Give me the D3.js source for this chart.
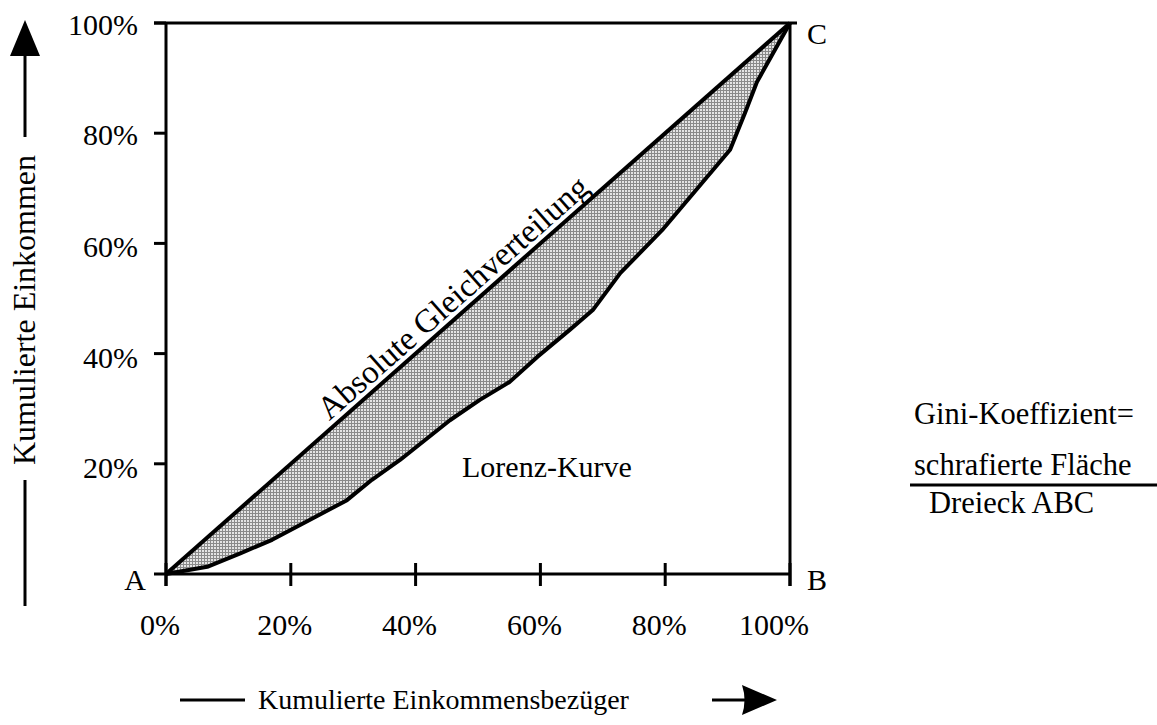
<!DOCTYPE html>
<html><head><meta charset="utf-8">
<script src="https://cdn.jsdelivr.net/npm/d3@7"></script>
<style>body{margin:0;background:#fff}svg{display:block}</style>
</head><body>
<svg id="c" width="1157" height="725" font-family="'Liberation Serif', 'Times New Roman', 'DejaVu Serif', serif"></svg>
<script>
// Data (percent)
const lorenzX = [0, 6.6, 12, 17, 23, 29, 33, 37.5, 45.5, 50.3, 55, 59.5, 64.7, 68.4, 72.8, 79.5, 90.4, 92.8, 94.7, 100];
const lorenzY = [0, 1.3, 3.8, 6.2, 9.8, 13.4, 17.1, 20.7, 27.9, 31.6, 34.8, 39.4, 44.3, 47.9, 54.6, 62.4, 77.0, 83.7, 89.3, 100];
const equalX = [0, 100];
const equalY = [0, 100];
const xTicks = [0, 20, 40, 60, 80, 100];
const yTicks = [20, 40, 60, 80, 100];
const xTickLabels = ["0%", "20%", "40%", "60%", "80%", "100%"];
const yTickLabels = ["20%", "40%", "60%", "80%", "100%"];
const cornerLabels = ["A", "B", "C"];
const xTitle = "Kumulierte Einkommensbezüger";
const yTitle = "Kumulierte Einkommen";
const curveLabels = ["Absolute Gleichverteilung", "Lorenz-Kurve"];
const giniLines = ["Gini-Koeffizient=", "schrafierte Fläche", "Dreieck ABC"];

const svg = d3.select("#c");
const x = d3.scaleLinear().domain([0, 100]).range([166, 790]);
const y = d3.scaleLinear().domain([0, 100]).range([574, 23]);

// pattern
const defs = svg.append("defs");
const pat = defs.append("pattern").attr("id", "hatch").attr("patternUnits", "userSpaceOnUse")
  .attr("width", 3).attr("height", 3);
pat.append("rect").attr("width", 3).attr("height", 3).attr("fill", "#e4e4e4");
pat.append("rect").attr("width", 3).attr("height", 1).attr("fill", "#8a8a8a");
pat.append("rect").attr("width", 1).attr("height", 3).attr("fill", "#8a8a8a");

const lorenz = lorenzX.map((v, i) => [v, lorenzY[i]]);
const equal = equalX.map((v, i) => [v, equalY[i]]);
const line = d3.line().x(d => x(d[0])).y(d => y(d[1]));

// shaded area: lorenz up to C then back along diagonal
svg.append("path").attr("d", line(lorenz.concat(equal.slice().reverse()))).attr("fill", "url(#hatch)")
  .attr("shape-rendering", "crispEdges");

// frame/axes
const ax = svg.append("g").attr("stroke", "#000").attr("stroke-width", 3).attr("fill", "none");
ax.append("line").attr("x1", x(0) - 12).attr("x2", x(100) + 7).attr("y1", y(100)).attr("y2", y(100));
ax.append("line").attr("x1", x(0) - 12).attr("x2", x(100)).attr("y1", y(0)).attr("y2", y(0));
ax.append("line").attr("x1", x(0)).attr("x2", x(0)).attr("y1", y(100)).attr("y2", y(0) + 12);
ax.append("line").attr("x1", x(100)).attr("x2", x(100)).attr("y1", y(100)).attr("y2", y(0) + 12);
yTicks.forEach(v => ax.append("line").attr("x1", x(0) - 12).attr("x2", x(0)).attr("y1", y(v)).attr("y2", y(v)));
xTicks.forEach(v => ax.append("line").attr("x1", x(v)).attr("x2", x(v)).attr("y1", y(0) - 11).attr("y2", y(0) + 12));

// curves
svg.append("path").attr("d", line(equal)).attr("stroke", "#000").attr("stroke-width", 4).attr("fill", "none");
svg.append("path").attr("d", line(lorenz)).attr("stroke", "#000").attr("stroke-width", 4).attr("fill", "none")
  .attr("stroke-linejoin", "round");

// tick labels
svg.selectAll(".xl").data(xTicks).enter().append("text")
  .attr("x", (d, i) => x(d) - (i === 5 ? 16 : 6)).attr("y", 635).attr("text-anchor", "middle")
  .attr("font-size", 30).text((d, i) => xTickLabels[i]);
svg.selectAll(".yl").data(yTicks).enter().append("text")
  .attr("x", 138).attr("y", (d, i) => y(d) + (d >= 80 ? 12 : 14)).attr("text-anchor", "end")
  .attr("font-size", 30).text((d, i) => yTickLabels[i]);

// corner labels
svg.append("text").attr("x", 146).attr("y", 590).attr("text-anchor", "end").attr("font-size", 30).text(cornerLabels[0]);
svg.append("text").attr("x", x(100) + 17).attr("y", 590).attr("font-size", 30).text(cornerLabels[1]);
svg.append("text").attr("x", x(100) + 17).attr("y", y(100) + 21).attr("font-size", 30).text(cornerLabels[2]);

// diagonal label
const ang = Math.atan2(y(0) - y(100), x(100) - x(0)) * 180 / Math.PI;
const mx = x(46.5), my = y(46.5);
svg.append("text").attr("transform", `translate(${mx + 4},${my - 12}) rotate(${-ang})`)
  .attr("text-anchor", "middle").attr("font-size", 33).text(curveLabels[0]);
svg.append("text").attr("x", 462).attr("y", 477).attr("font-size", 30).text(curveLabels[1]);

// gini
svg.append("text").attr("x", 914).attr("y", 424).attr("font-size", 30.5).text(giniLines[0]);
svg.append("text").attr("x", 914).attr("y", 475).attr("font-size", 30.5).text(giniLines[1]);
svg.append("line").attr("x1", 910).attr("x2", 1157).attr("y1", 485).attr("y2", 485).attr("stroke", "#000").attr("stroke-width", 3);
svg.append("text").attr("x", 929).attr("y", 513).attr("font-size", 30.5).text(giniLines[2]);

// y axis title with arrow
svg.append("text").attr("transform", "translate(35,310) rotate(-90)").attr("text-anchor", "middle")
  .attr("font-size", 32).text(yTitle);
const ar = svg.append("g").attr("stroke", "#000").attr("stroke-width", 3);
ar.append("line").attr("x1", 25).attr("x2", 25).attr("y1", 55).attr("y2", 137);
ar.append("line").attr("x1", 25).attr("x2", 25).attr("y1", 480).attr("y2", 606);
svg.append("path").attr("d", "M25,20 L10,56 L40,56 Z").attr("fill", "#000");

// x axis title with arrow
svg.append("text").attr("x", 258).attr("y", 709).attr("font-size", 28).text(xTitle);
ar.append("line").attr("x1", 180).attr("x2", 245).attr("y1", 700).attr("y2", 700);
ar.append("line").attr("x1", 712).attr("x2", 745).attr("y1", 700).attr("y2", 700);
svg.append("path").attr("d", "M777,700 L742,685 Q747,700 742,715 Z").attr("fill", "#000");
</script>
</body></html>
